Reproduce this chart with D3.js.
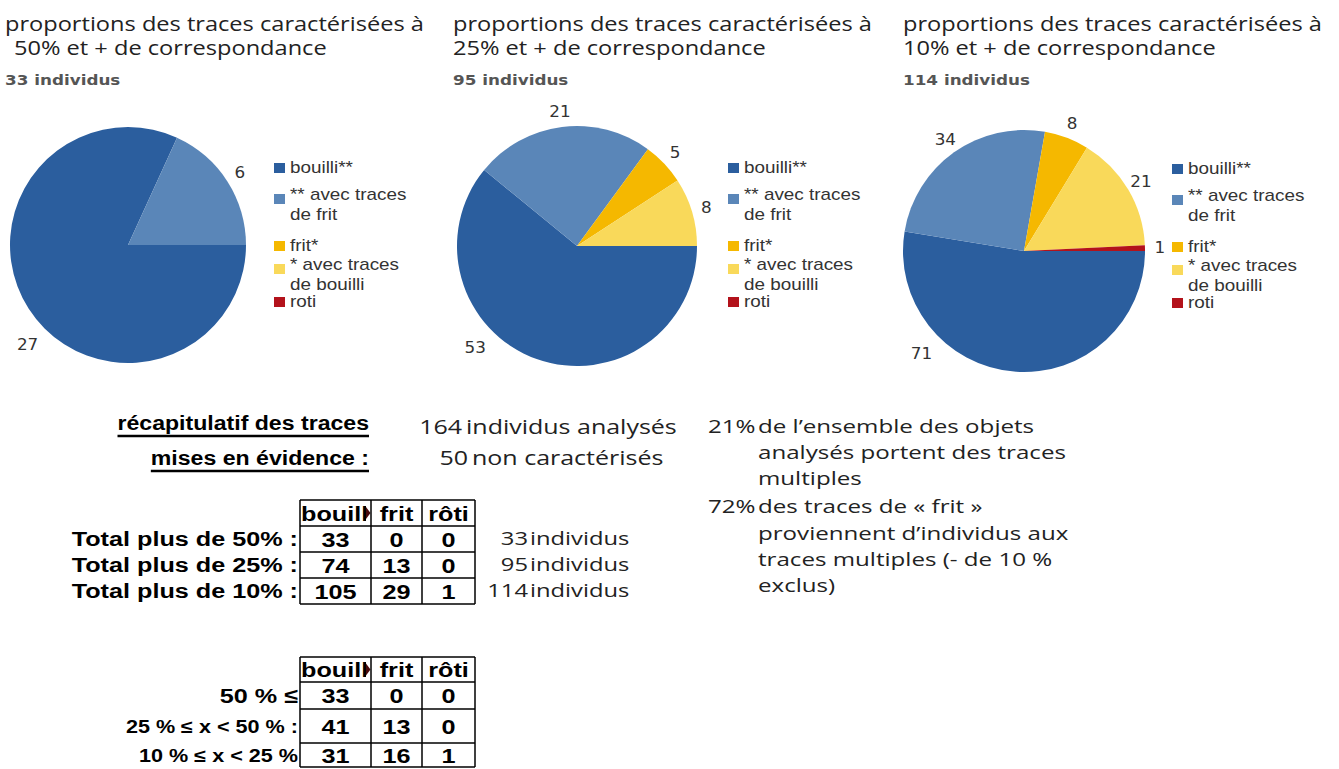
<!DOCTYPE html>
<html>
<head>
<meta charset="utf-8">
<script src="https://cdn.jsdelivr.net/npm/d3@7"></script>
<style>
  body { margin: 0; background: #fff; }
</style>
</head>
<body>
<svg id="chart" width="1339" height="769"></svg>
<script>
// ---- data ----
var categories = ["bouilli**", "** avec traces de frit", "frit*", "* avec traces de bouilli", "roti"];
var legendLines = [["bouilli**"], ["** avec traces", "de frit"], ["frit*"], ["* avec traces", "de bouilli"], ["roti"]];
var seuils = ["50%", "25%", "10%"];
var individus = [33, 95, 114];
var pie50 = [27, 6, 0, 0, 0];
var pie25 = [53, 21, 5, 8, 0];
var pie10 = [71, 34, 8, 21, 1];
var colors = ["#2b5e9e", "#5a86b8", "#f5b800", "#f9d95a", "#b3121b"];

var colonnes = ["bouilli", "frit", "rôti"];
var totalLabels = ["Total plus de 50% :", "Total plus de 25% :", "Total plus de 10% :"];
var totaux = [[33, 0, 0], [74, 13, 0], [105, 29, 1]];
var trancheLabels = ["50 % ≤", "25 % ≤ x < 50 % :", "10 % ≤ x < 25 %"];
var tranches = [[33, 0, 0], [41, 13, 0], [31, 16, 1]];
var resume = [[164, "individus analysés"], [50, "non caractérisés"]];
var notes = [
  ["21%", ["de l’ensemble des objets", "analysés portent des traces", "multiples"]],
  ["72%", ["des traces de « frit »", "proviennent d’individus aux", "traces multiples (- de 10 %", "exclus)"]]
];

// ---- fonts ----
var ARIAL = "'Liberation Sans', Arial, sans-serif";
var CALIBRI = "'Open Sans', sans-serif";
var VERDANA = "'DejaVu Sans', Verdana, sans-serif";

var svg = d3.select("#chart");

// text drawn stretched horizontally, like the reference
function label(parent, x, y, str, o) {
  var g = parent.append("g")
    .attr("transform", "translate(" + x + "," + y + ") scale(" + (o.sx || 1) + ",1)");
  return g.append("text")
    .attr("font-family", o.font)
    .attr("font-size", o.size)
    .attr("font-weight", o.weight || "normal")
    .attr("fill", o.fill || "#000")
    .attr("text-anchor", o.anchor || "start")
    .text(str);
}

// ---- the three pies ----
var panels = [
  {values: pie50, x: 5, indent: 9, cx: 128, cy: 245, r: 118, lx: 274},
  {values: pie25, x: 453, indent: 0, cx: 577, cy: 246, r: 120, lx: 728},
  {values: pie10, x: 903, indent: 0, cx: 1024, cy: 251, r: 121, lx: 1172}
];

var pie = d3.pie().sort(null)
  .value(function(d) { return d.v; })
  .startAngle(Math.PI / 2)
  .endAngle(Math.PI / 2 + 2 * Math.PI);

var color = d3.scaleOrdinal().domain(categories).range(colors);

panels.forEach(function(p, k) {
  // titles
  label(svg, p.x, 31, "proportions des traces caractérisées à", {font: CALIBRI, size: 20, sx: 1.18, fill: "#222"});
  label(svg, p.x + p.indent, 55, seuils[k] + " et + de correspondance", {font: CALIBRI, size: 20, sx: 1.18, fill: "#222"});
  label(svg, p.x, 85, individus[k] + " individus", {font: VERDANA, size: 14, weight: "bold", sx: 1.2, fill: "#555"});

  var arcs = pie(p.values.map(function(v, i) { return {cat: categories[i], v: v}; }));
  var arc = d3.arc().innerRadius(0).outerRadius(p.r);
  var g = svg.append("g").attr("transform", "translate(" + p.cx + "," + p.cy + ")");
  var shown = arcs.filter(function(d) { return d.value > 0; });

  g.selectAll("path")
    .data(shown)
    .enter().append("path")
    .attr("d", arc)
    .attr("fill", function(d) { return color(d.data.cat); });

  // value labels just outside the slices (the big one sits at bottom-left)
  g.selectAll("g.lab")
    .data(shown)
    .enter().append("g").attr("class", "lab")
    .each(function(d) {
      var a, rr;
      if (d.index === 0) { a = Math.PI * 1.25; rr = p.r + 24; }
      else { a = (d.startAngle + d.endAngle) / 2; rr = p.r + 15; }
      label(d3.select(this), Math.sin(a) * rr, -Math.cos(a) * rr + 5, d.value,
        {font: VERDANA, size: 15, sx: 1.12, fill: "#333", anchor: "middle"});
    });

  // legend
  var itemY = [168, 195, 246, 265, 302];
  var leg = svg.append("g");
  legendLines.forEach(function(lines, i) {
    var y0 = itemY[i] + (k === 2 ? 1 : 0);
    var sq = lines.length > 1 ? y0 + 4 : y0;
    leg.append("rect")
      .attr("x", p.lx).attr("y", sq - 5)
      .attr("width", 11).attr("height", 10)
      .attr("fill", color(categories[i]));
    lines.forEach(function(t, j) {
      label(leg, p.lx + 16, y0 + j * 20 + 5, t, {font: ARIAL, size: 16, sx: 1.18, fill: "#333"});
    });
  });
});

// ---- summary heading ----
var head = [["récapitulatif des traces", 430, 436], ["mises en évidence :", 465, 471]];
head.forEach(function(h) {
  var t = label(svg, 369, h[1], h[0], {font: ARIAL, size: 21, weight: "bold", sx: 1.1, anchor: "end"});
  var w = t.node().getComputedTextLength() * 1.1;
  svg.append("line")
    .attr("x1", 369 - w).attr("x2", 369)
    .attr("y1", h[2]).attr("y2", h[2])
    .attr("stroke", "#000").attr("stroke-width", 2.5);
});

// ---- counts ----
var resumeY = [434, 465];
var resumeX = [462, 468];
resume.forEach(function(r, i) {
  label(svg, resumeX[i], resumeY[i], r[0], {font: CALIBRI, size: 20, sx: 1.25, fill: "#222", anchor: "end"});
  label(svg, resumeX[i] + 4, resumeY[i], r[1], {font: CALIBRI, size: 20, sx: 1.25, fill: "#222"});
});

// ---- notes ----
var noteY = [[433, 459, 485], [513, 540, 566, 592]];
notes.forEach(function(n, i) {
  label(svg, 708, noteY[i][0], n[0], {font: CALIBRI, size: 19, sx: 1.27, fill: "#222"});
  n[1].forEach(function(line, j) {
    label(svg, 758, noteY[i][j], line, {font: CALIBRI, size: 19, sx: 1.27, fill: "#222"});
  });
});

// ---- tables ----
var colEdges = [300, 371, 422, 475];
var x = d3.scaleOrdinal().domain(colonnes)
  .range(colonnes.map(function(c, i) { return (colEdges[i] + colEdges[i + 1]) / 2; }));

var clipId = 0;
function drawTable(rowEdges, rowLabels, rows, labelSizes) {
  var g = svg.append("g");
  var top = rowEdges[0], bottom = rowEdges[rowEdges.length - 1];
  var hy = (rowEdges[0] + rowEdges[1]) / 2;

  // header
  colonnes.forEach(function(c, i) {
    if (i === 0) {
      var id = "clip" + (clipId++);
      g.append("clipPath").attr("id", id).append("rect")
        .attr("x", colEdges[0]).attr("y", top)
        .attr("width", colEdges[1] - colEdges[0] - 5).attr("height", rowEdges[1] - top);
      var hg = g.append("g").attr("clip-path", "url(#" + id + ")");
      label(hg, colEdges[0] + 1, hy + 7.5, c, {font: ARIAL, size: 21, weight: "bold", sx: 1.2});
      g.append("path")
        .attr("d", "M" + (colEdges[1] - 5) + "," + (hy - 6) + "L" + (colEdges[1] - 0.5) + "," + hy + "L" + (colEdges[1] - 5) + "," + (hy + 6) + "Z")
        .attr("fill", "#4a0a0a");
    } else {
      label(g, x(c), hy + 7.5, c, {font: ARIAL, size: 21, weight: "bold", sx: 1.2, anchor: "middle"});
    }
  });

  rows.forEach(function(r, ri) {
    var ym = (rowEdges[ri + 1] + rowEdges[ri + 2]) / 2;
    label(g, colEdges[0] - 2, ym + 7, rowLabels[ri],
      {font: ARIAL, size: labelSizes[ri], weight: "bold", sx: 1.2, anchor: "end"});
    r.forEach(function(v, ci) {
      label(g, x(colonnes[ci]), ym + 7.5, v, {font: ARIAL, size: 21, weight: "bold", sx: 1.2, anchor: "middle"});
    });
  });

  // grid
  rowEdges.forEach(function(y) {
    g.append("line").attr("x1", colEdges[0]).attr("x2", colEdges[3])
      .attr("y1", y).attr("y2", y).attr("stroke", "#000").attr("stroke-width", 1.5);
  });
  colEdges.forEach(function(cx) {
    g.append("line").attr("x1", cx).attr("x2", cx)
      .attr("y1", top).attr("y2", bottom).attr("stroke", "#000").attr("stroke-width", 1.5);
  });
  return g;
}

drawTable([500, 526, 552, 578, 604], totalLabels, totaux, [21, 21, 21]);
drawTable([657, 682, 709, 743, 767], trancheLabels, tranches, [21, 18, 18]);

// individuals column beside the first table
var indY = [545, 571, 597];
individus.forEach(function(n, i) {
  label(svg, 528, indY[i], n, {font: CALIBRI, size: 19, sx: 1.25, fill: "#222", anchor: "end"});
  label(svg, 530, indY[i], "individus", {font: CALIBRI, size: 19, sx: 1.25, fill: "#222"});
});
</script>
</body>
</html>
